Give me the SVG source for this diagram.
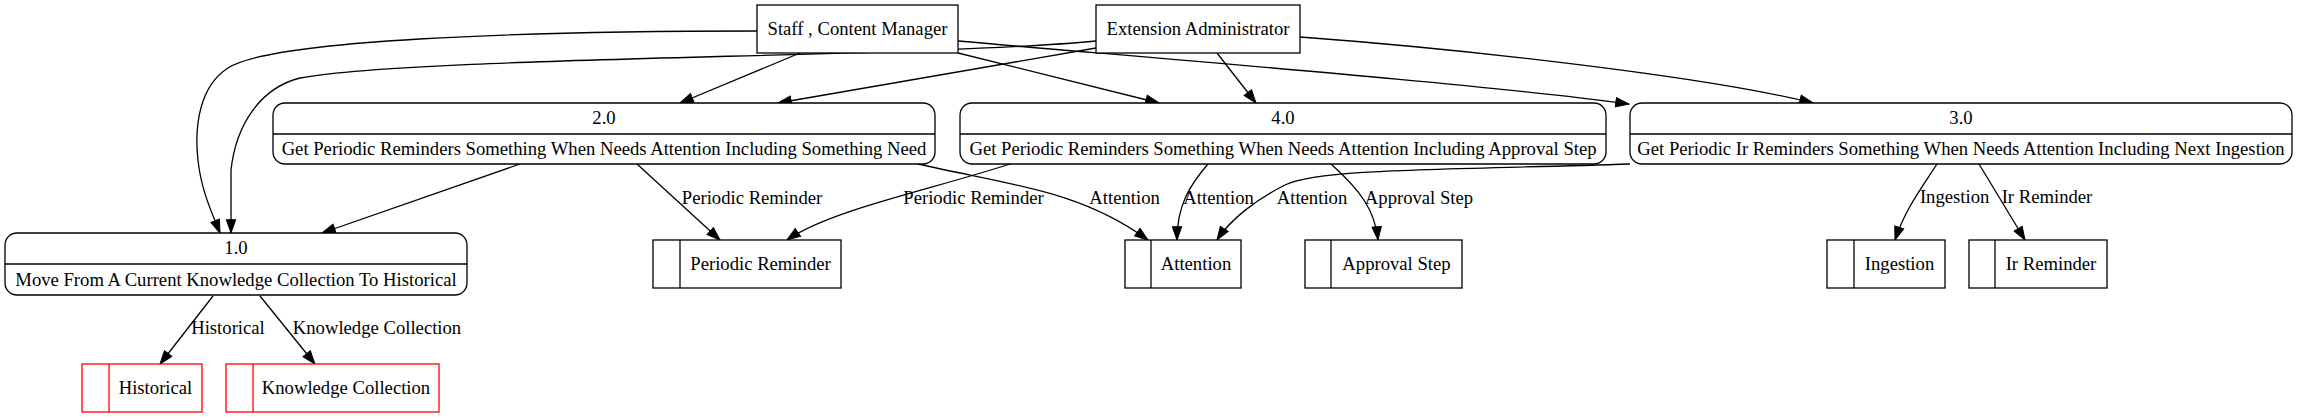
<svg xmlns="http://www.w3.org/2000/svg" width="2299" height="419" viewBox="0 0 2299 419">
<style>
text{font-family:"Liberation Serif","Times New Roman",serif;font-size:18.67px;fill:#000;text-anchor:middle}
.box{fill:#fff;stroke:#000;stroke-width:1.3}
.store{fill:#fff;stroke:#000;stroke-width:1.3}
.red{stroke:#ff0000}
.e{fill:none;stroke:#000;stroke-width:1.3;marker-end:url(#arr)}
</style>
<defs>
<marker id="arr" markerUnits="userSpaceOnUse" markerWidth="15" markerHeight="11" viewBox="0 0 15 11" refX="14" refY="5.5" orient="auto">
<path d="M0.7,0.8 L14,5.5 L0.7,10.2 z" fill="#000" stroke="#000" stroke-width="1"/>
</marker>
</defs>
<rect width="2299" height="419" fill="#fff"/>
<g id="connectors">
<path class="e" d="M757,31 C520,31 270,40 228,68 C200,86 194,125 198,160 C201,190 212,213 220,233"/>
<path class="e" d="M1096,41 C920,58 420,56 300,78 C260,88 236,125 231,170 L231,233"/>
<path class="e" d="M800,53 L680,103"/>
<path class="e" d="M1096,48 L778,103"/>
<path class="e" d="M958,53 L1159,103"/>
<path class="e" d="M1217,53 L1256,103"/>
<path class="e" d="M958,41 C1200,62 1480,84 1629,104"/>
<path class="e" d="M1300,37 C1450,48 1700,75 1813,103"/>
<path class="e" d="M520,164 L322,233"/>
<path class="e" d="M637,164 L720,240"/>
<path class="e" d="M1010,164 C930,190 830,210 787,240"/>
<path class="e" d="M918,164 C1010,185 1080,190 1148,240"/>
<path class="e" d="M1208,164 C1190,185 1177,205 1177,240"/>
<path class="e" d="M1630,164 C1450,170 1320,168 1285,185 C1255,200 1230,220 1217,240"/>
<path class="e" d="M1331,164 C1360,190 1375,210 1378,240"/>
<path class="e" d="M1937,164 C1920,190 1905,210 1895,240"/>
<path class="e" d="M1979,164 L2025,240"/>
<path class="e" d="M213,296 L160,364"/>
<path class="e" d="M260,296 L315,364"/>
<text x="752" y="204">Periodic Reminder</text>
<text x="973.5" y="204">Periodic Reminder</text>
<text x="1124.6" y="204">Attention</text>
<text x="1218.6" y="204">Attention</text>
<text x="1312" y="204">Attention</text>
<text x="1419" y="204">Approval Step</text>
<text x="1954.6" y="203">Ingestion</text>
<text x="2047" y="203">Ir Reminder</text>
<text x="228" y="334">Historical</text>
<text x="377" y="334">Knowledge Collection</text>
</g>
<g id="staff">
<rect class="box" x="757" y="5" width="201" height="48"/>
<text x="857.5" y="35">Staff , Content Manager</text>
</g>
<g id="extadmin">
<rect class="box" x="1096" y="5" width="204" height="48"/>
<text x="1198" y="35">Extension Administrator</text>
</g>
<g id="p2">
<rect class="box" x="273" y="103" width="662" height="61" rx="12"/>
<line class="box" x1="273" y1="134" x2="935" y2="134"/>
<text x="604" y="124">2.0</text>
<text x="604" y="155">Get Periodic Reminders Something When Needs Attention Including Something Need</text>
</g>
<g id="p4">
<rect class="box" x="960" y="103" width="646" height="61" rx="12"/>
<line class="box" x1="960" y1="134" x2="1606" y2="134"/>
<text x="1283" y="124">4.0</text>
<text x="1283" y="155">Get Periodic Reminders Something When Needs Attention Including Approval Step</text>
</g>
<g id="p3">
<rect class="box" x="1630" y="103" width="662" height="61" rx="12"/>
<line class="box" x1="1630" y1="134" x2="2292" y2="134"/>
<text x="1961" y="124">3.0</text>
<text x="1961" y="155">Get Periodic Ir Reminders Something When Needs Attention Including Next Ingestion</text>
</g>
<g id="p1">
<rect class="box" x="5" y="233" width="462" height="62" rx="12"/>
<line class="box" x1="5" y1="264" x2="467" y2="264"/>
<text x="236" y="254">1.0</text>
<text x="236" y="286">Move From A Current Knowledge Collection To Historical</text>
</g>
<g id="s_periodic">
<rect class="store" x="653" y="240" width="188" height="48"/>
<line class="store" x1="680" y1="240" x2="680" y2="288"/>
<text x="760.5" y="270">Periodic Reminder</text>
</g>
<g id="s_attention">
<rect class="store" x="1125" y="240" width="116" height="48"/>
<line class="store" x1="1151" y1="240" x2="1151" y2="288"/>
<text x="1196" y="270">Attention</text>
</g>
<g id="s_approval">
<rect class="store" x="1305" y="240" width="157" height="48"/>
<line class="store" x1="1331" y1="240" x2="1331" y2="288"/>
<text x="1396.5" y="270">Approval Step</text>
</g>
<g id="s_ingestion">
<rect class="store" x="1827" y="240" width="118" height="48"/>
<line class="store" x1="1854" y1="240" x2="1854" y2="288"/>
<text x="1899.5" y="270">Ingestion</text>
</g>
<g id="s_irreminder">
<rect class="store" x="1969" y="240" width="138" height="48"/>
<line class="store" x1="1995" y1="240" x2="1995" y2="288"/>
<text x="2051" y="270">Ir Reminder</text>
</g>
<g id="s_historical">
<rect class="store red" x="82" y="364" width="120" height="48"/>
<line class="store red" x1="109" y1="364" x2="109" y2="412"/>
<text x="155.5" y="394">Historical</text>
</g>
<g id="s_knowledge">
<rect class="store red" x="226" y="364" width="213" height="48"/>
<line class="store red" x1="253" y1="364" x2="253" y2="412"/>
<text x="346" y="394">Knowledge Collection</text>
</g>
</svg>
